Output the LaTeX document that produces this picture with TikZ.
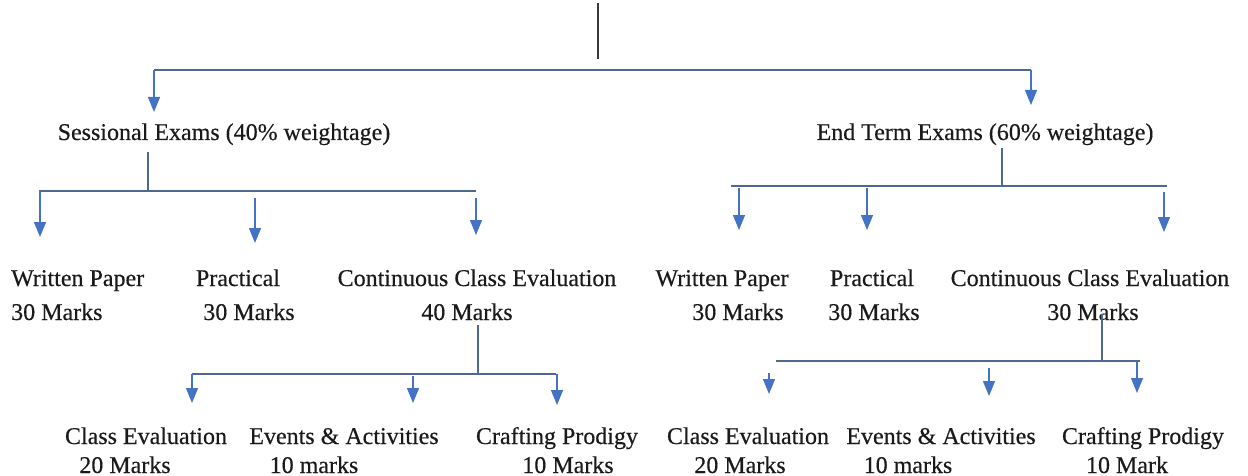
\documentclass[tikz,border=0pt]{standalone}
\usepackage{fontspec}
\setmainfont{Liberation Serif}[FakeBold=0.35]
\usetikzlibrary{arrows.meta}
\definecolor{barc}{HTML}{4F6890}
\definecolor{arrc}{HTML}{4472C4}
\definecolor{textc}{HTML}{1A1A1A}
\definecolor{topc}{HTML}{3A3A3A}
\tikzset{
  txt/.style={font=\fontsize{24}{28}\selectfont, text=textc, inner sep=0pt, anchor=base},
  txtw/.style={txt, anchor=base west},
  bar/.style={draw=barc, line width=1.3pt},
  arr/.style={draw=arrc, line width=1.3pt, -{Triangle[length=15pt,width=12pt]}},
}
\begin{document}
\begin{tikzpicture}[x=1pt,y=-1pt]
\useasboundingbox (0,0) rectangle (1248,476);
\fill[white] (0,0) rectangle (1248,476);

% ---------- text nodes ----------
\node[txt] (sess) at (224,140) {Sessional Exams (40\% weightage)};
\node[txt] (endt) at (985,140) {End Term Exams (60\% weightage)};

\node[txtw] (swp)  at (11,286) {Written Paper};
\node[txtw] (swpm) at (11,320) {30 Marks};
\node[txt]  (spr)  at (238,286) {Practical};
\node[txt]  (sprm) at (249,320) {30 Marks};
\node[txt]  (scc)  at (477,286) {Continuous Class Evaluation};
\node[txt]  (sccm) at (467,320) {40 Marks};

\node[txt] (ewp)  at (722,286) {Written Paper};
\node[txt] (ewpm) at (738,320) {30 Marks};
\node[txt] (epr)  at (872,286) {Practical};
\node[txt] (eprm) at (874,320) {30 Marks};
\node[txt] (ecc)  at (1090,286) {Continuous Class Evaluation};
\node[txt] (eccm) at (1093,320) {30 Marks};

\node[txt] (sce)  at (146,444) {Class Evaluation};
\node[txt] (scem) at (125,473) {20 Marks};
\node[txt] (sea)  at (344,444) {Events \& Activities};
\node[txt] (seam) at (314,473) {10 marks};
\node[txt] (scp)  at (557,444) {Crafting Prodigy};
\node[txt] (scpm) at (568,473) {10 Marks};

\node[txt] (ece)  at (748,444) {Class Evaluation};
\node[txt] (ecem) at (740,473) {20 Marks};
\node[txt] (eea)  at (941,444) {Events \& Activities};
\node[txt] (eeam) at (908,473) {10 marks};
\node[txt] (ecp)  at (1143,444) {Crafting Prodigy};
\node[txt] (ecpm) at (1127,473) {10 Mark};

% ---------- named points ----------
\coordinate (t0) at (598,3);   \coordinate (t1) at (598,59);
\coordinate (h0l) at (154,70); \coordinate (h0r) at (1031,70);
\coordinate (a0l) at (154,112); \coordinate (a0r) at (1031,105);

\coordinate (sv0) at (148,152); \coordinate (sv1) at (148,191);
\coordinate (shl) at (39,191);  \coordinate (shr) at (476,191);
\coordinate (sa1s) at (40,191);  \coordinate (sa1) at (40,237);
\coordinate (sa2s) at (255,198); \coordinate (sa2) at (255,243);
\coordinate (sa3s) at (476,198); \coordinate (sa3) at (476,235);

\coordinate (ev0) at (1002,148); \coordinate (ev1) at (1002,186);
\coordinate (ehl) at (731,186);  \coordinate (ehr) at (1167,186);
\coordinate (ea1s) at (739,188);  \coordinate (ea1) at (739,230);
\coordinate (ea2s) at (867,188);  \coordinate (ea2) at (867,230);
\coordinate (ea3s) at (1164,192); \coordinate (ea3) at (1164,232);

\coordinate (cv0) at (478,325); \coordinate (cv1) at (478,374);
\coordinate (chl) at (192,374); \coordinate (chr) at (556,374);
\coordinate (ca1s) at (192,374); \coordinate (ca1) at (192,403);
\coordinate (ca2s) at (413,376); \coordinate (ca2) at (413,403);
\coordinate (ca3s) at (557,374); \coordinate (ca3) at (557,405);

\coordinate (dv0) at (1102,314); \coordinate (dv1) at (1102,361);
\coordinate (dhl) at (776,361);  \coordinate (dhr) at (1140,361);
\coordinate (da1s) at (769,373); \coordinate (da1) at (769,394);
\coordinate (da2s) at (989,368); \coordinate (da2) at (989,396);
\coordinate (da3s) at (1137,361); \coordinate (da3) at (1137,393);

% ---------- connectors ----------
\draw[draw=topc, line width=1.3pt] (t0) -- (t1);
\draw[bar] (h0l) -- (h0r);
\draw[arr] (h0l) -- (a0l);
\draw[arr] (h0r) -- (a0r);

\draw[bar] (sv0) -- (sv1);
\draw[bar] (shl) -- (shr);
\draw[arr] (sa1s) -- (sa1);
\draw[arr] (sa2s) -- (sa2);
\draw[arr] (sa3s) -- (sa3);

\draw[bar] (ev0) -- (ev1);
\draw[bar] (ehl) -- (ehr);
\draw[arr] (ea1s) -- (ea1);
\draw[arr] (ea2s) -- (ea2);
\draw[arr] (ea3s) -- (ea3);

\draw[bar] (cv0) -- (cv1);
\draw[bar] (chl) -- (chr);
\draw[arr] (ca1s) -- (ca1);
\draw[arr] (ca2s) -- (ca2);
\draw[arr] (ca3s) -- (ca3);

\draw[bar] (dv0) -- (dv1);
\draw[bar] (dhl) -- (dhr);
\draw[arr] (da1s) -- (da1);
\draw[arr] (da2s) -- (da2);
\draw[arr] (da3s) -- (da3);
\end{tikzpicture}
\end{document}
